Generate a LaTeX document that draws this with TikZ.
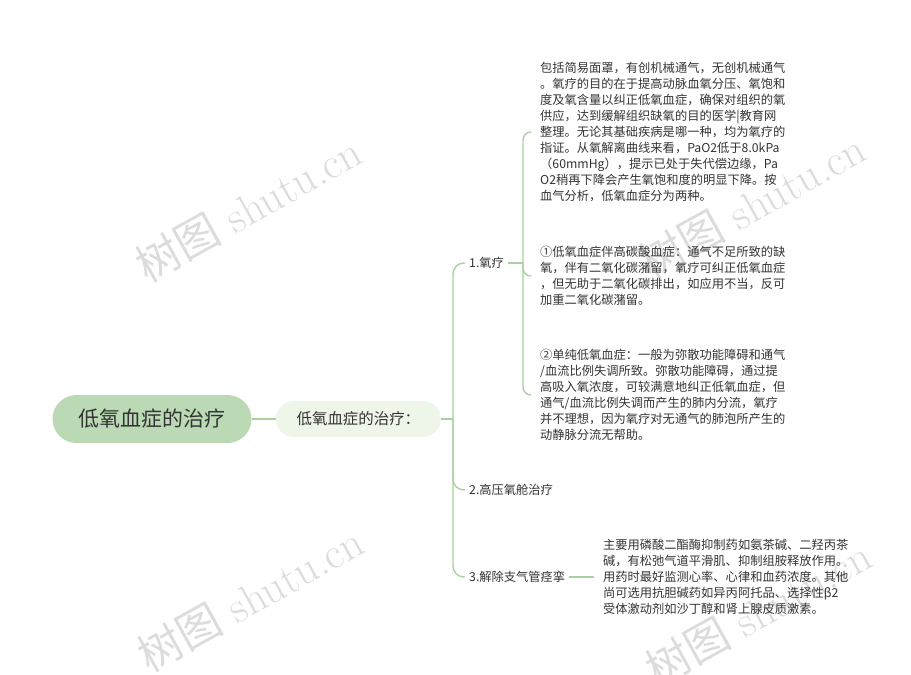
\documentclass[tikz,border=0pt]{standalone}
\usepackage{fontspec}
\newfontfamily\cjk{Noto Sans CJK SC}
\usetikzlibrary{positioning}
\definecolor{rootfill}{HTML}{BCD9B5}
\definecolor{subfill}{HTML}{EEF5E9}
\definecolor{linegreen}{HTML}{A8D0A0}
\definecolor{textdark}{HTML}{333333}
\definecolor{wmgray}{HTML}{DCDCDC}

\begin{document}
\begin{tikzpicture}[
        x=1bp,
        y=-1bp,
        root/.style={
          rounded corners=24bp,
          fill=rootfill,
          minimum width=199bp,
          minimum height=48bp,
          text=textdark,
          font=\cjk\fontsize{21}{24}\selectfont
          },
        sub/.style={
          rounded corners=18bp,
          fill=subfill,
          minimum width=165bp,
          minimum height=36bp,
          text=textdark,
          font=\cjk\fontsize{15.5}{18}\selectfont
          },
        topic/.style={
          anchor=west,
          inner xsep=4bp,
          text=textdark,
          font=\cjk\fontsize{12.3}{15}\selectfont
          },
        leaf/.style={
          anchor=west,
          align=left,
          inner xsep=9bp,
          inner ysep=2bp,
          text=textdark,
          font=\cjk\fontsize{12.3}{16.1}\selectfont
          },
        branch/.style={
          draw=linegreen,
          line width=1.4bp
          },
        water/.style={
          rotate=29,
          text=wmgray,
          font=\fontsize{44}{44}\selectfont
          }
        ]
        \useasboundingbox (0,0) rectangle (911,675);
        % watermarks
        \foreach \wx/\wy in {248/208,250/598,752/205,758/612}
          \node[water] (wm\wx\wy) at (\wx,\wy) {{\cjk 树图} shutu.cn};
        \node[root] (root) at (152,419) {低氧血症的治疗};
        \node[sub, right=24bp of root] (sub) {低氧血症的治疗：};
        \coordinate (hub) at (453,419);
        \node[topic] (t1) at (465,263) {1.氧疗};
        \node[topic] (t2) at (465,490) {2.高压氧舱治疗};
        \node[topic] (t3) at (465,577) {3.解除支气管痉挛};
        \coordinate (hub1) at (523,263);
        \node[leaf] (n1) at (531,132) {包括简易面罩，有创机械通气，无创机械通气\\
          。氧疗的目的在于提高动脉血氧分压、氧饱和\\
          度及氧含量以纠正低氧血症，确保对组织的氧\\
          供应，达到缓解组织缺氧的目的医学|教育网\\
          整理。无论其基础疾病是哪一种，均为氧疗的\\
          指证。从氧解离曲线来看，PaO2低于8.0kPa\\
          （60mmHg），提示已处于失代偿边缘，Pa\\
          O2稍再下降会产生氧饱和度的明显下降。按\\
          血气分析，低氧血症分为两种。};
        \node[leaf] (n2) at (531,276) {①低氧血症伴高碳酸血症：通气不足所致的缺\\
          氧，伴有二氧化碳潴留，氧疗可纠正低氧血症\\
          ，但无助于二氧化碳排出，如应用不当，反可\\
          加重二氧化碳潴留。};
        \node[leaf] (n3) at (531,395) {②单纯低氧血症：一般为弥散功能障碍和通气\\
          /血流比例失调所致。弥散功能障碍，通过提\\
          高吸入氧浓度，可较满意地纠正低氧血症，但\\
          通气/血流比例失调而产生的肺内分流，氧疗\\
          并不理想，因为氧疗对无通气的肺泡所产生的\\
          动静脉分流无帮助。};
        \node[leaf] (n4) at (594,577) {主要用磷酸二酯酶抑制药如氨茶碱、二羟丙茶\\
          碱，有松弛气道平滑肌、抑制组胺释放作用。\\
          用药时最好监测心率、心律和血药浓度。其他\\
          尚可选用抗胆碱药如异丙阿托品、选择性β2\\
          受体激动剂如沙丁醇和肾上腺皮质激素。};
        \draw[branch] (root) -- (sub);
        \draw[branch] (sub) -- (hub);
        \foreach \t in {t1,t2,t3}
          \draw[branch, rounded corners=11bp] (hub) |- (\t.west);
        \draw[branch] (t1) -- (hub1);
        \foreach \n in {n1,n2,n3}
          \draw[branch, rounded corners=8bp] (hub1) |- (\n.west);
        \draw[branch] (t3) -- (n4);
    \end{tikzpicture}
\end{document}
